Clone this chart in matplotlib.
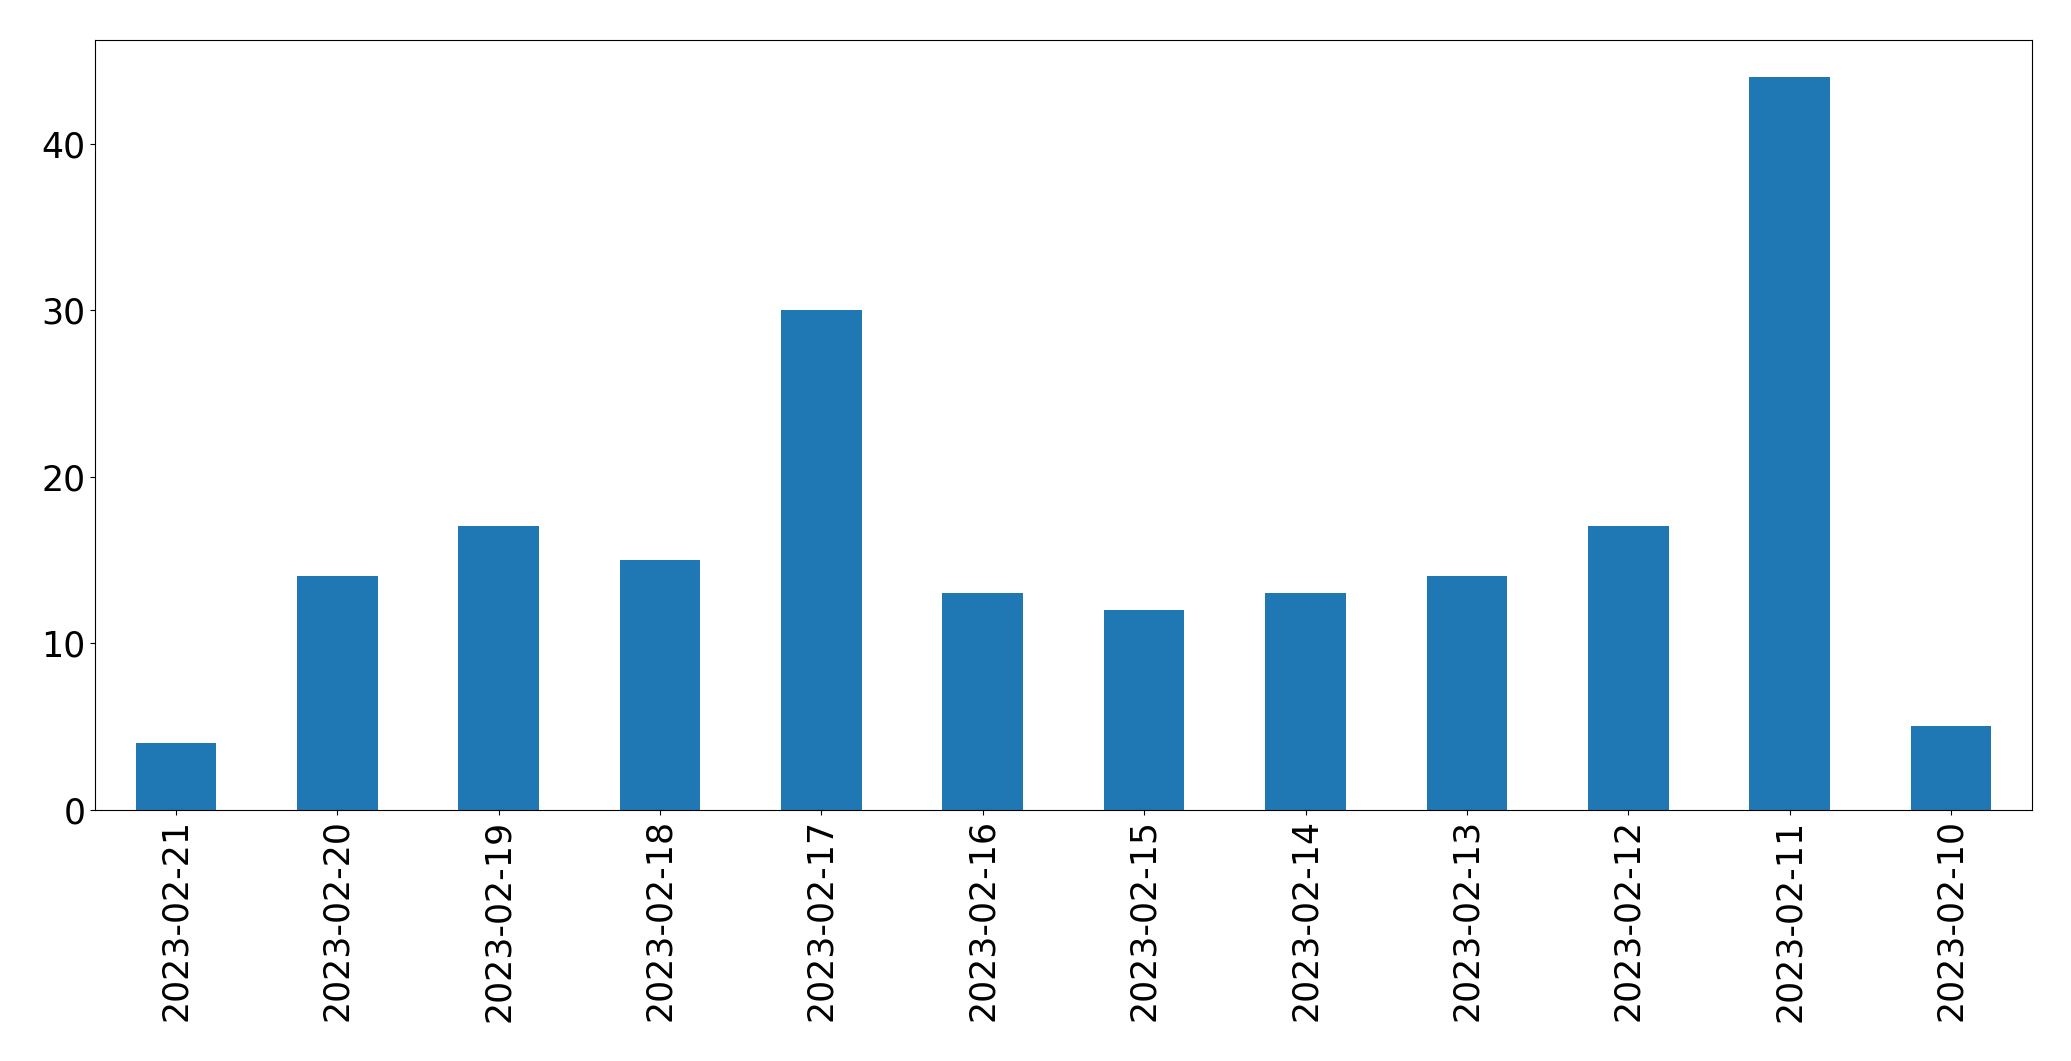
import matplotlib
matplotlib.use("Agg")
import matplotlib.pyplot as plt
import pandas as pd

dates = ["2023-02-21", "2023-02-20", "2023-02-19", "2023-02-18", "2023-02-17", "2023-02-16",
         "2023-02-15", "2023-02-14", "2023-02-13", "2023-02-12", "2023-02-11", "2023-02-10"]
counts = [4, 14, 17, 15, 30, 13, 12, 13, 14, 17, 44, 5]

s = pd.Series(counts, index=dates)
fig, ax = plt.subplots(figsize=(20.71, 10.61), dpi=100)
s.plot(kind="bar", ax=ax, color="#1f77b4")
ax.tick_params(labelsize=25)
fig.subplots_adjust(left=0.046, right=0.981, top=0.962, bottom=0.237)
fig.savefig("out.png", dpi=100)
